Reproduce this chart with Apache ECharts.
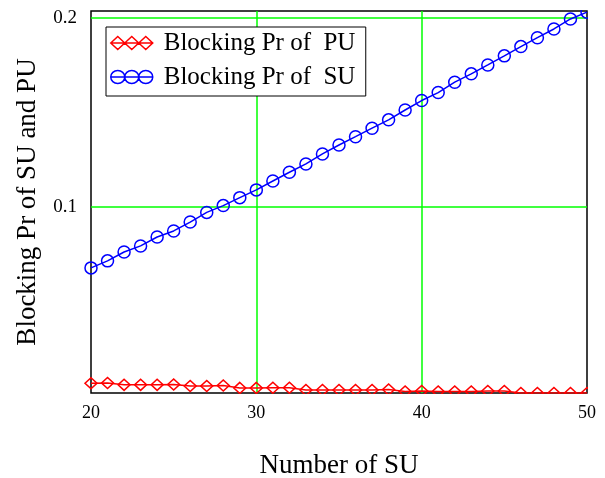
<!DOCTYPE html>
<html>
<head>
<meta charset="utf-8">
<script src="https://cdn.jsdelivr.net/npm/echarts@6/dist/echarts.min.js"></script>
<style>html,body{margin:0;padding:0;background:#fff;}#c{width:605px;height:478px;}</style>
</head>
<body>
<div id="c"></div>
<script>
var xValues = [20,21,22,23,24,25,26,27,28,29,30,31,32,33,34,35,36,37,38,39,40,41,42,43,44,45,46,47,48,49,50];
var puBlocking = [0.0069,0.0070,0.0060,0.0060,0.0060,0.0062,0.0054,0.0054,0.0057,0.0044,0.0044,0.0045,0.0045,0.0033,0.0033,0.0033,0.0033,0.0033,0.0036,0.0025,0.0028,0.0025,0.0025,0.0025,0.0028,0.0028,0.0017,0.0017,0.0017,0.0017,0.0017];
var suBlocking = [0.0678,0.0715,0.0762,0.0794,0.0841,0.0873,0.0920,0.0971,0.1007,0.1049,0.1090,0.1137,0.1183,0.1227,0.1280,0.1327,0.1371,0.1416,0.1460,0.1512,0.1562,0.1604,0.1659,0.1703,0.1750,0.1798,0.1847,0.1894,0.1940,0.1993,0.2029];
var xTickLabels = [20, 30, 40, 50];
var xGridValues = [30, 40];
var yTicks = [0.1, 0.2];
var seriesNames = ['Blocking Pr of  PU', 'Blocking Pr of  SU'];
var xTitle = 'Number of SU';
var yTitle = 'Blocking Pr of SU and PU';

var W = 605, H = 478;
var G = {left: 91, right: 18, top: 11, bottom: 85};
var font = 'Liberation Serif, Times New Roman, serif';

function pairs(xs, ys) { return xs.map(function (x, i) { return [x, ys[i]]; }); }

var diamondIcon = 'path://M0,6.5L42,6.5M0,6.5L7,0L14,6.5L7,13ZM14,6.5L21,0L28,6.5L21,13ZM28,6.5L35,0L42,6.5L35,13Z';
var circleIcon = 'path://M0,6.5L42,6.5M0,6.5A7,6.5 0 1,0 14,6.5A7,6.5 0 1,0 0,6.5ZM14,6.5A7,6.5 0 1,0 28,6.5A7,6.5 0 1,0 14,6.5ZM28,6.5A7,6.5 0 1,0 42,6.5A7,6.5 0 1,0 28,6.5Z';

var chart = echarts.init(document.getElementById('c'), null, {renderer: 'canvas'});
var bx = W - G.right, by = H - G.bottom;
chart.setOption({
  backgroundColor: '#fff',
  animation: false,
  grid: {left: G.left, right: G.right, top: G.top, bottom: G.bottom, containLabel: false, outerBoundsMode: 'none',
    show: true, borderColor: '#000', borderWidth: 1.5, backgroundColor: 'transparent'},
  legend: {
    orient: 'vertical', left: 106, top: 27,
    backgroundColor: '#fff', borderColor: '#000', borderWidth: 1,
    padding: [3, 2, 6, 4], itemGap: 8, itemWidth: 42, itemHeight: 13,
    selectedMode: false,
    textStyle: {fontFamily: font, fontSize: 25, color: '#000', lineHeight: 26, width: 200, padding: [0, 0, 0, 6]},
    data: [
      {name: seriesNames[0], icon: diamondIcon, itemStyle: {color: 'rgba(0,0,0,0)', borderColor: '#ff0000', borderWidth: 1.5}},
      {name: seriesNames[1], icon: circleIcon, itemStyle: {color: 'rgba(0,0,0,0)', borderColor: '#0000ff', borderWidth: 1.5}}
    ]
  },
  xAxis: {
    type: 'value', min: 20, max: 50, interval: 10,
    name: xTitle, nameLocation: 'middle', nameGap: 59,
    nameTextStyle: {fontFamily: font, fontSize: 27, color: '#000'},
    axisLine: {show: false},
    axisTick: {show: false, customValues: xGridValues},
    axisLabel: {fontFamily: font, fontSize: 18, color: '#000', margin: 11, customValues: xTickLabels},
    splitLine: {show: true, lineStyle: {color: '#00ff00', width: 1.5}}
  },
  yAxis: {
    type: 'value', min: 0.0017, max: 0.2035,
    name: yTitle, nameLocation: 'middle', nameGap: 50,
    nameTextStyle: {fontFamily: font, fontSize: 27, color: '#000'},
    axisLine: {show: false},
    axisTick: {show: false, customValues: yTicks},
    axisLabel: {fontFamily: font, fontSize: 19, color: '#000', margin: 14, customValues: yTicks,
      formatter: function (v) { return String(Math.round(v * 10) / 10); }},
    splitLine: {show: true, lineStyle: {color: '#00ff00', width: 1.5}}
  },
  series: [
    {name: seriesNames[0], type: 'line', data: pairs(xValues, puBlocking),
      symbol: 'diamond', symbolSize: [12, 11], showAllSymbol: true, clip: true,
      lineStyle: {color: '#ff0000', width: 1.5},
      itemStyle: {color: 'rgba(0,0,0,0)', borderColor: '#ff0000', borderWidth: 1.5}, z: 3},
    {name: seriesNames[1], type: 'line', data: pairs(xValues, suBlocking),
      symbol: 'circle', symbolSize: 12, showAllSymbol: true, clip: true,
      lineStyle: {color: '#0000ff', width: 1.5},
      itemStyle: {color: 'rgba(0,0,0,0)', borderColor: '#0000ff', borderWidth: 1.5}, z: 3}
  ],
  graphic: [
    {type: 'rect', z: 100, silent: true, shape: {x: G.left - 6, y: by + 1, width: W - G.left + 6, height: 7}, style: {fill: '#fff'}},
    {type: 'rect', z: 100, silent: true, shape: {x: bx + 1, y: 0, width: W - bx, height: by + 8}, style: {fill: '#fff'}},
    {type: 'rect', z: 100, silent: true, shape: {x: G.left - 6, y: 0, width: W - G.left + 6, height: G.top - 1}, style: {fill: '#fff'}}
  ]
});
</script>
</body>
</html>
